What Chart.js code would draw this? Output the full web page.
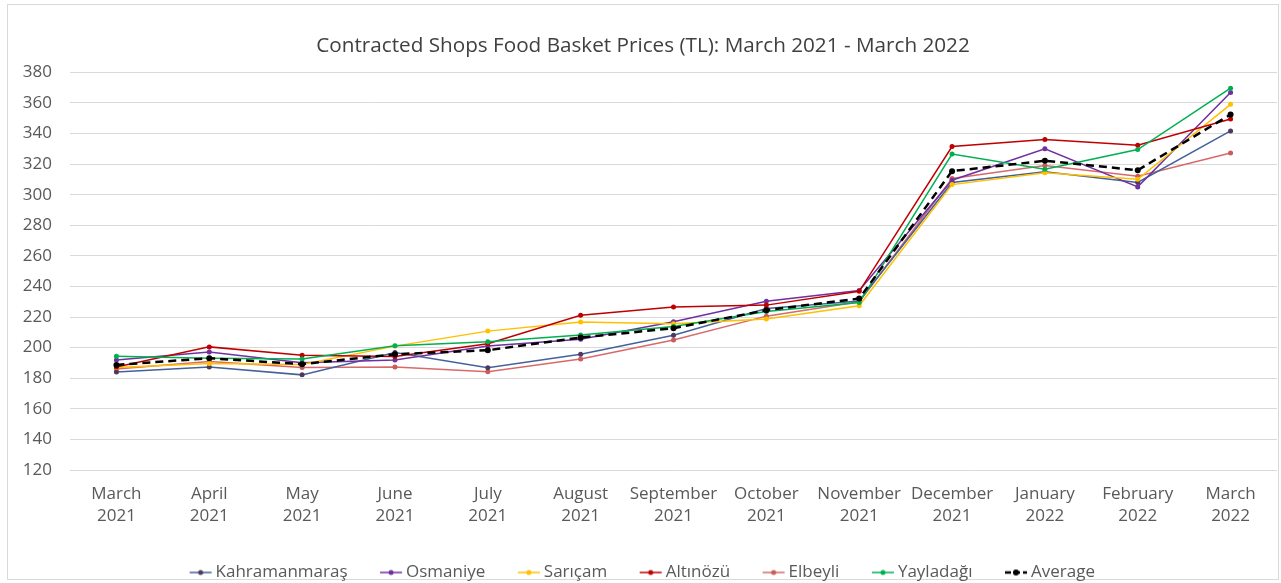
<!DOCTYPE html>
<html>
<head>
<meta charset="utf-8">
<title>Contracted Shops Food Basket Prices</title>
<script src="https://cdn.jsdelivr.net/npm/chart.js@4.4.0/dist/chart.umd.min.js"></script>
<style>
  html, body { margin: 0; padding: 0; background: #fff; }
  #chart { display: block; }
</style>
</head>
<body>
<canvas id="chart" width="1281" height="583"></canvas>
<script>
var months = ['March', 'April', 'May', 'June', 'July', 'August', 'September', 'October', 'November', 'December', 'January', 'February', 'March'];
var years = ['2021', '2021', '2021', '2021', '2021', '2021', '2021', '2021', '2021', '2021', '2022', '2022', '2022'];
var yTicks = [120, 140, 160, 180, 200, 220, 240, 260, 280, 300, 320, 340, 360, 380];

var kahramanmaras = [184.1, 187.4, 182.2, 196.8, 186.9, 195.7, 208.1, 225.6, 230.5, 308.0, 315.0, 308.0, 341.7];
var osmaniye      = [192.0, 197.2, 190.2, 192.0, 201.1, 205.5, 217.0, 230.4, 237.3, 309.5, 330.0, 305.1, 366.8];
var saricam       = [187.0, 189.6, 189.0, 201.0, 210.8, 216.7, 215.7, 218.8, 227.4, 306.6, 314.3, 310.1, 359.1];
var altinozu      = [187.4, 200.5, 195.1, 194.2, 202.6, 221.2, 226.5, 227.8, 236.8, 331.5, 336.1, 332.3, 349.5];
var elbeyli       = [186.0, 190.9, 187.0, 187.4, 184.3, 192.6, 205.0, 220.6, 230.0, 310.6, 319.1, 312.1, 327.3];
var yayladagi     = [194.4, 193.0, 192.5, 201.2, 203.9, 208.3, 213.8, 223.6, 229.5, 326.6, 316.7, 329.5, 369.6];
var average       = [188.7, 193.1, 189.2, 195.7, 198.3, 206.6, 212.7, 224.5, 232.1, 315.4, 322.2, 316.0, 352.4];

(function () {
  var FONT = 'Open Sans';
  var TEXT = '#595959';

  // "line + dot" swatch like the Excel legend; blank strip on the left
  // pushes the visible part right so it sits close to the label
  function swatch(line, dot, dashed) {
    var c = document.createElement('canvas');
    c.width = 29; c.height = 10;
    var g = c.getContext('2d');
    g.strokeStyle = line;
    g.lineWidth = dashed ? 2.5 : 1.5;
    if (dashed) g.setLineDash([6, 3]);
    g.beginPath(); g.moveTo(5, 5); g.lineTo(27, 5); g.stroke();
    g.fillStyle = dot;
    g.beginPath(); g.arc(16, 5, dashed ? 3 : 2.5, 0, Math.PI * 2); g.fill();
    return c;
  }

  function series(label, data, line, dot, order) {
    return {
      label: label, data: data, order: order,
      borderColor: line, backgroundColor: dot,
      pointBackgroundColor: dot, pointBorderColor: dot,
      borderWidth: 1.5, pointRadius: 2.5, pointBorderWidth: 0,
      tension: 0, fill: false,
      legendSwatch: swatch(line, dot, false)
    };
  }

  var avg = {
    label: 'Average', data: average, order: 0,
    borderColor: '#000', backgroundColor: '#000',
    pointBackgroundColor: '#000', pointBorderColor: '#000',
    borderWidth: 2.5, borderDash: [8, 5], pointRadius: 3, pointBorderWidth: 0,
    tension: 0, fill: false,
    legendSwatch: swatch('#000', '#000', true)
  };

  var frame = {
    id: 'frame',
    beforeDraw: function (chart) {
      var ctx = chart.ctx;
      ctx.save();
      ctx.fillStyle = '#fff';
      ctx.fillRect(0, 0, chart.width, chart.height);
      ctx.strokeStyle = '#d9d9d9';
      ctx.lineWidth = 1;
      ctx.strokeRect(7.5, 4.5, 1271, 575);
      ctx.restore();
    }
  };

  new Chart(document.getElementById('chart'), {
    type: 'line',
    data: {
      labels: months.map(function (m, i) { return [m, years[i]]; }),
      datasets: [
        series('Kahramanmaraş', kahramanmaras, '#44629a', '#4e3a5c', 6),
        series('Osmaniye', osmaniye, '#7030a0', '#7030a0', 5),
        series('Sarıçam', saricam, '#ffc000', '#ffc000', 4),
        series('Altınözü', altinozu, '#c00000', '#c00000', 3),
        series('Elbeyli', elbeyli, '#d86a6a', '#c95c5c', 7),
        series('Yayladağı', yayladagi, '#00b050', '#00b050', 2),
        avg
      ]
    },
    plugins: [frame],
    options: {
      responsive: false,
      devicePixelRatio: 1,
      animation: false,
      layout: { padding: { left: 8, right: 3, top: 5, bottom: -8 } },
      plugins: {
        title: {
          display: true,
          text: 'Contracted Shops Food Basket Prices (TL): March 2021 - March 2022',
          color: '#404040',
          font: { family: FONT, size: 20.7, weight: 'normal' },
          padding: { top: 29, bottom: 13.5 }
        },
        legend: {
          position: 'bottom',
          labels: {
            color: TEXT,
            font: { family: FONT, size: 17 },
            usePointStyle: true,
            pointStyleWidth: 16,
            padding: 34,
            sort: function (a, b) { return a.datasetIndex - b.datasetIndex; },
            generateLabels: function (chart) {
              var items = Chart.defaults.plugins.legend.labels.generateLabels(chart);
              items.forEach(function (it) {
                it.pointStyle = chart.data.datasets[it.datasetIndex].legendSwatch;
              });
              return items;
            }
          }
        },
        tooltip: { enabled: false }
      },
      scales: {
        x: {
          offset: true,
          afterFit: function (scale) { scale.height = 60; },
          grid: { display: false, drawTicks: false },
          border: { display: false },
          ticks: {
            color: TEXT, padding: 13, maxRotation: 0, autoSkip: false,
            font: { family: FONT, size: 17, lineHeight: 1.3 }
          }
        },
        y: {
          min: yTicks[0], max: yTicks[yTicks.length - 1],
          afterBuildTicks: function (scale) {
            scale.ticks = yTicks.map(function (v) { return { value: v }; });
          },
          afterFit: function (scale) { scale.width = 62; },
          grid: { color: '#d9d9d9', lineWidth: 1, drawTicks: false },
          border: { display: false },
          ticks: { color: TEXT, padding: 18, font: { family: FONT, size: 17 } }
        }
      }
    }
  });
})();
</script>
</body>
</html>
